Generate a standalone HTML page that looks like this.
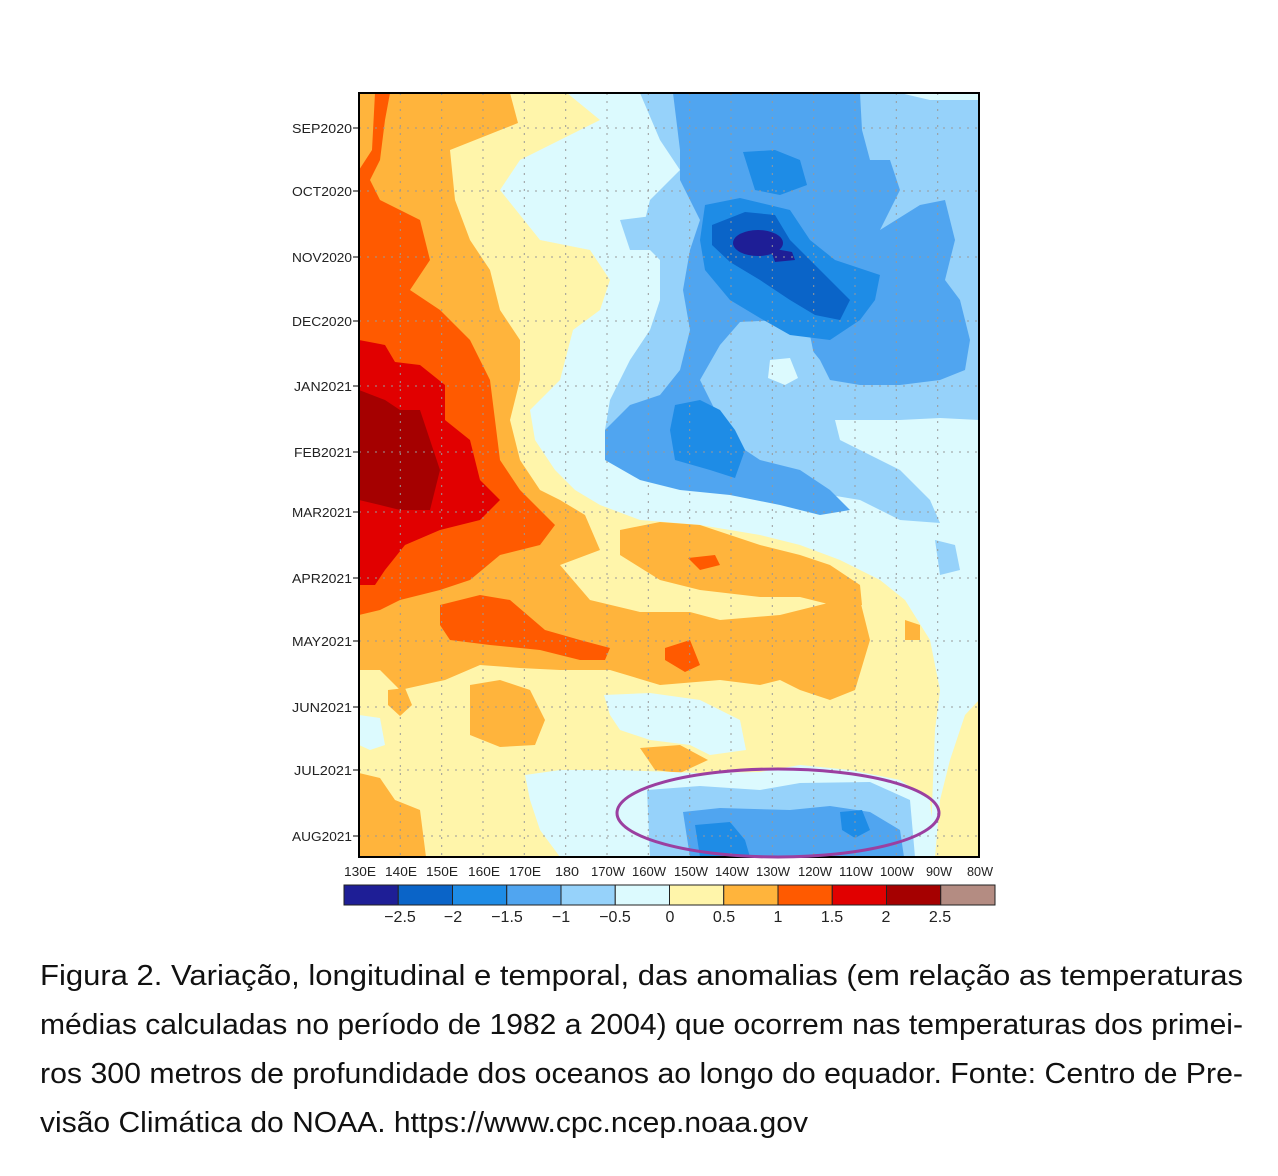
<!DOCTYPE html>
<html><head><meta charset="utf-8"><style>
html,body{margin:0;padding:0;background:#fff;}
svg{display:block}
</style></head><body>
<svg width="1278" height="1176" viewBox="0 0 1278 1176" xmlns="http://www.w3.org/2000/svg">
<defs><clipPath id="c"><rect x="359" y="93" width="620" height="764"/></clipPath></defs>
<g clip-path="url(#c)">
<rect x="359" y="93" width="620" height="764" fill="#fff5aa"/>
<polygon fill="#dcfafe" points="567,93 979,93 979,700 965,715 950,760 940,800 935,857 930,857 935,730 940,690 930,640 905,600 880,580 840,560 800,545 760,535 700,525 640,520 600,505 575,490 555,470 535,440 530,410 560,380 573,330 600,310 610,280 590,250 540,240 500,190 520,160 560,140 600,120"/>
<polygon fill="#ffb43c" points="359,93 510,93 518,123 450,150 455,200 470,240 490,270 500,310 520,340 520,380 510,420 520,460 540,490 560,500 585,515 600,550 560,565 590,600 640,612 690,612 720,620 780,615 840,600 860,600 870,640 855,690 830,700 800,690 780,680 760,685 720,680 660,685 610,670 560,670 520,668 480,665 445,680 400,690 380,670 359,670"/>
<polygon fill="#ffb43c" points="620,530 660,522 700,525 730,535 760,545 800,555 830,565 860,585 862,605 840,607 800,597 760,597 700,590 660,580 620,555"/>
<polygon fill="#ffb43c" points="470,685 500,680 530,690 545,720 535,745 500,747 470,735"/>
<polygon fill="#ffb43c" points="388,690 405,688 412,705 400,716 388,705"/>
<polygon fill="#ffb43c" points="640,748 680,745 708,760 680,773 655,770"/>
<polygon fill="#ffb43c" points="359,773 380,778 395,800 420,810 426,857 359,857"/>
<polygon fill="#ffb43c" points="905,620 920,625 920,640 905,640"/>
<polygon fill="#dcfafe" points="604,695 650,693 700,700 740,720 746,750 710,755 690,745 650,740 620,730 610,715"/>
<polygon fill="#ff5a00" points="375,93 390,93 385,120 380,160 370,180 380,200 420,220 430,260 410,290 440,310 470,340 490,380 495,420 500,460 520,490 555,525 540,545 500,555 470,580 440,590 400,600 380,610 359,615 359,170 372,150"/>
<polygon fill="#ff5a00" points="440,605 480,595 510,600 545,630 580,640 610,648 605,660 580,660 540,650 490,645 450,640 440,625"/>
<polygon fill="#ff5a00" points="688,558 715,555 720,565 700,570"/>
<polygon fill="#ff5a00" points="665,648 690,640 700,665 685,672 665,660"/>
<polygon fill="#e10000" points="359,340 385,345 395,362 420,365 445,385 445,420 470,440 480,480 500,500 480,520 440,530 405,545 385,570 375,585 359,585"/>
<polygon fill="#a50000" points="359,390 385,400 400,410 420,410 430,440 440,470 430,510 400,510 380,505 359,500"/>
<polygon fill="#96d2fa" points="640,93 900,93 930,100 979,100 979,420 940,418 900,420 835,420 840,440 880,460 900,470 930,500 940,523 900,520 860,500 800,490 760,480 700,470 640,460 605,430 610,400 620,380 630,360 650,330 660,300 660,260 640,240 650,200 680,170 660,140"/>
<polygon fill="#96d2fa" points="620,220 660,215 665,250 630,250"/>
<polygon fill="#96d2fa" points="935,540 955,545 960,570 940,575"/>
<polygon fill="#50a5f0" points="673,93 860,93 862,130 870,160 890,160 900,190 880,230 920,205 945,200 955,240 945,280 960,300 970,340 965,370 940,380 900,385 860,385 830,380 820,360 800,335 780,320 740,322 720,345 700,380 720,420 730,440 760,460 800,470 830,490 850,510 820,515 780,505 730,495 680,490 640,480 605,460 605,430 630,405 660,395 680,370 690,330 683,290 690,250 700,220 680,180 680,150"/>
<polygon fill="#96d2fa" points="740,322 790,320 810,335 817,370 815,400 790,410 760,405 745,380 740,350"/>
<polygon fill="#dcfafe" points="770,360 790,358 798,378 785,385 768,378"/>
<polygon fill="#1e8ce6" points="743,152 775,150 800,160 807,185 780,195 755,190"/>
<polygon fill="#1e8ce6" points="705,205 740,198 790,210 810,240 835,260 880,275 875,300 860,320 830,340 790,335 760,318 730,300 705,270 700,240"/>
<polygon fill="#1e8ce6" points="675,405 700,400 720,410 735,430 745,450 735,478 710,470 675,460 670,430"/>
<polygon fill="#0a64c8" points="712,225 745,212 775,215 790,240 820,270 850,300 840,320 815,315 790,300 760,280 730,262 712,245"/>
<ellipse cx="758" cy="243" rx="25" ry="13" fill="#1e1e96"/>
<polygon fill="#1e1e96" points="770,248 792,252 795,260 775,262"/>
<polygon fill="#dcfafe" points="525,775 560,770 620,770 700,773 760,772 800,765 850,770 900,780 930,800 935,857 560,857 540,830 530,800"/>
<polygon fill="#dcfafe" points="359,715 380,718 385,745 370,750 359,745"/>
<polygon fill="#96d2fa" points="647,790 700,786 760,790 800,783 870,782 910,800 915,857 650,857"/>
<polygon fill="#50a5f0" points="683,812 720,808 790,810 830,806 870,812 900,830 904,857 690,857"/>
<polygon fill="#1e8ce6" points="695,825 730,822 745,840 750,857 700,857"/>
<polygon fill="#1e8ce6" points="840,812 862,810 870,830 855,838 842,830"/>
</g>
<g stroke="#999" stroke-width="1" stroke-dasharray="2,6">
<line x1="400.3" y1="93" x2="400.3" y2="857"/><line x1="441.7" y1="93" x2="441.7" y2="857"/><line x1="483" y1="93" x2="483" y2="857"/><line x1="524.3" y1="93" x2="524.3" y2="857"/><line x1="565.7" y1="93" x2="565.7" y2="857"/><line x1="607" y1="93" x2="607" y2="857"/><line x1="648.3" y1="93" x2="648.3" y2="857"/><line x1="689.7" y1="93" x2="689.7" y2="857"/><line x1="731" y1="93" x2="731" y2="857"/><line x1="772.3" y1="93" x2="772.3" y2="857"/><line x1="813.7" y1="93" x2="813.7" y2="857"/><line x1="855" y1="93" x2="855" y2="857"/><line x1="896.3" y1="93" x2="896.3" y2="857"/><line x1="937.7" y1="93" x2="937.7" y2="857"/>
<line x1="359" y1="128" x2="979" y2="128"/><line x1="359" y1="191" x2="979" y2="191"/><line x1="359" y1="257" x2="979" y2="257"/><line x1="359" y1="321" x2="979" y2="321"/><line x1="359" y1="386" x2="979" y2="386"/><line x1="359" y1="452" x2="979" y2="452"/><line x1="359" y1="512" x2="979" y2="512"/><line x1="359" y1="578" x2="979" y2="578"/><line x1="359" y1="641" x2="979" y2="641"/><line x1="359" y1="707" x2="979" y2="707"/><line x1="359" y1="770" x2="979" y2="770"/><line x1="359" y1="836" x2="979" y2="836"/>
</g>
<rect x="359" y="93" width="620" height="764" fill="none" stroke="#000" stroke-width="2"/>
<ellipse cx="778" cy="813" rx="161" ry="44" fill="none" stroke="#9b3fa0" stroke-width="3"/>
<g font-family="Liberation Sans, sans-serif" font-size="13" fill="#222" text-anchor="end">
<text x="352" y="133" textLength="60" lengthAdjust="spacingAndGlyphs">SEP2020</text><text x="352" y="196" textLength="60" lengthAdjust="spacingAndGlyphs">OCT2020</text><text x="352" y="262" textLength="60" lengthAdjust="spacingAndGlyphs">NOV2020</text><text x="352" y="326" textLength="60" lengthAdjust="spacingAndGlyphs">DEC2020</text><text x="352" y="391" textLength="58" lengthAdjust="spacingAndGlyphs">JAN2021</text><text x="352" y="457" textLength="58" lengthAdjust="spacingAndGlyphs">FEB2021</text><text x="352" y="517" textLength="60" lengthAdjust="spacingAndGlyphs">MAR2021</text><text x="352" y="583" textLength="60" lengthAdjust="spacingAndGlyphs">APR2021</text><text x="352" y="646" textLength="60" lengthAdjust="spacingAndGlyphs">MAY2021</text><text x="352" y="712" textLength="60" lengthAdjust="spacingAndGlyphs">JUN2021</text><text x="352" y="775" textLength="58" lengthAdjust="spacingAndGlyphs">JUL2021</text><text x="352" y="841" textLength="60" lengthAdjust="spacingAndGlyphs">AUG2021</text>
</g>
<g stroke="#000"><line x1="353" y1="128" x2="359" y2="128"/><line x1="353" y1="191" x2="359" y2="191"/><line x1="353" y1="257" x2="359" y2="257"/><line x1="353" y1="321" x2="359" y2="321"/><line x1="353" y1="386" x2="359" y2="386"/><line x1="353" y1="452" x2="359" y2="452"/><line x1="353" y1="512" x2="359" y2="512"/><line x1="353" y1="578" x2="359" y2="578"/><line x1="353" y1="641" x2="359" y2="641"/><line x1="353" y1="707" x2="359" y2="707"/><line x1="353" y1="770" x2="359" y2="770"/><line x1="353" y1="836" x2="359" y2="836"/></g>
<g font-family="Liberation Sans, sans-serif" font-size="13" fill="#222" text-anchor="middle">
<text x="360" y="876" textLength="32" lengthAdjust="spacingAndGlyphs">130E</text><text x="401" y="876" textLength="32" lengthAdjust="spacingAndGlyphs">140E</text><text x="442" y="876" textLength="32" lengthAdjust="spacingAndGlyphs">150E</text><text x="484" y="876" textLength="32" lengthAdjust="spacingAndGlyphs">160E</text><text x="525" y="876" textLength="32" lengthAdjust="spacingAndGlyphs">170E</text><text x="567" y="876" textLength="24" lengthAdjust="spacingAndGlyphs">180</text><text x="608" y="876" textLength="34" lengthAdjust="spacingAndGlyphs">170W</text><text x="649" y="876" textLength="34" lengthAdjust="spacingAndGlyphs">160W</text><text x="691" y="876" textLength="34" lengthAdjust="spacingAndGlyphs">150W</text><text x="732" y="876" textLength="34" lengthAdjust="spacingAndGlyphs">140W</text><text x="773" y="876" textLength="34" lengthAdjust="spacingAndGlyphs">130W</text><text x="815" y="876" textLength="34" lengthAdjust="spacingAndGlyphs">120W</text><text x="856" y="876" textLength="34" lengthAdjust="spacingAndGlyphs">110W</text><text x="897" y="876" textLength="34" lengthAdjust="spacingAndGlyphs">100W</text><text x="939" y="876" textLength="26" lengthAdjust="spacingAndGlyphs">90W</text><text x="980" y="876" textLength="26" lengthAdjust="spacingAndGlyphs">80W</text>
</g>
<g stroke="#222" stroke-width="1">
<rect x="344" y="885" width="54.25" height="20" fill="#1e1e96"/>
<rect x="398.25" y="885" width="54.25" height="20" fill="#0a64c8"/>
<rect x="452.5" y="885" width="54.25" height="20" fill="#1e8ce6"/>
<rect x="506.75" y="885" width="54.25" height="20" fill="#50a5f0"/>
<rect x="561" y="885" width="54.25" height="20" fill="#96d2fa"/>
<rect x="615.25" y="885" width="54.25" height="20" fill="#dcfafe"/>
<rect x="669.5" y="885" width="54.25" height="20" fill="#fff5aa"/>
<rect x="723.75" y="885" width="54.25" height="20" fill="#ffb43c"/>
<rect x="778" y="885" width="54.25" height="20" fill="#ff5a00"/>
<rect x="832.25" y="885" width="54.25" height="20" fill="#e10000"/>
<rect x="886.5" y="885" width="54.25" height="20" fill="#a50000"/>
<rect x="940.75" y="885" width="54.25" height="20" fill="#b48c82"/>
</g>
<g font-family="Liberation Sans, sans-serif" font-size="16" fill="#222" text-anchor="middle">
<text x="400" y="922">−2.5</text><text x="453" y="922">−2</text><text x="507" y="922">−1.5</text><text x="561" y="922">−1</text><text x="615" y="922">−0.5</text><text x="670" y="922">0</text><text x="724" y="922">0.5</text><text x="778" y="922">1</text><text x="832" y="922">1.5</text><text x="886" y="922">2</text><text x="940" y="922">2.5</text>
</g>
<g font-family="Liberation Sans, sans-serif" font-size="29" fill="#111">
<text x="40" y="985" textLength="1203" lengthAdjust="spacingAndGlyphs">Figura 2. Variação, longitudinal e temporal, das anomalias (em relação as temperaturas</text>
<text x="40" y="1034" textLength="1203" lengthAdjust="spacingAndGlyphs">médias calculadas no período de 1982 a 2004) que ocorrem nas temperaturas dos primei-</text>
<text x="40" y="1083" textLength="1203" lengthAdjust="spacingAndGlyphs">ros 300 metros de profundidade dos oceanos ao longo do equador. Fonte: Centro de Pre-</text>
<text x="40" y="1132" textLength="768" lengthAdjust="spacingAndGlyphs">visão Climática do NOAA. https://www.cpc.ncep.noaa.gov</text>
</g>
</svg>
</body></html>
